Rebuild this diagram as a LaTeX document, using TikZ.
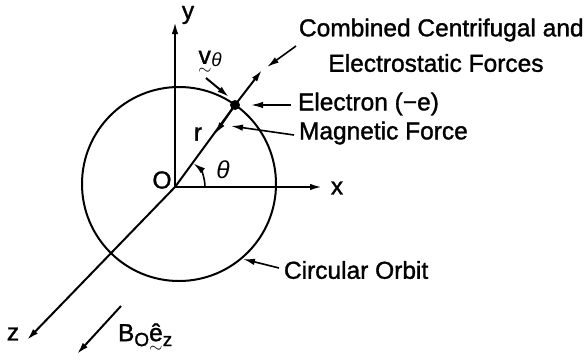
\documentclass[tikz,border=0pt]{standalone}
\usepackage{amsmath}
\usepackage{fontspec}
\setmainfont{Liberation Sans}[AutoFakeBold=1.3]
\usetikzlibrary{arrows.meta}
\newcommand{\tildeunder}[1]{\ensuremath{\underset{\raisebox{4pt}{$\scriptstyle\sim$}}{\text{#1}}}}
\begin{document}
\begin{tikzpicture}[x=1pt,y=-1pt,
  line width=2pt,
  tip/.style={-{Latex[length=12pt,width=6.5pt]}},
  lbl/.style={font=\fontsize{24.5}{28}\selectfont\bfseries, inner sep=0pt},
  thin leader/.style={line width=1.6pt},
]
\useasboundingbox (0,0) rectangle (586,360);
% geometry
\coordinate (O) at (175,187);
\coordinate (C) at (179,184);
\coordinate (ytip) at (175,22);
\coordinate (xtip) at (322,187);
\coordinate (ztip) at (27,340);
\coordinate (Fout) at (262,70);
\coordinate (Fmag) at (215,134);
\coordinate (vA) at (206,78);
\coordinate (vB) at (229,97);
\coordinate (bA) at (121,306);
\coordinate (bB) at (77,354);
\coordinate (arcS) at (205,187);
% leader starts / ends
\coordinate (lcS) at (296,46);
\coordinate (lcE) at (267,67);
\coordinate (leS) at (291,105);
\coordinate (leE) at (251,105);
\coordinate (lmS) at (294,135);
\coordinate (lmE) at (231,126);
\coordinate (loS) at (279,268);
\coordinate (loE) at (243,259);

% orbit
\draw (C) circle[radius=97];
% axes
\draw[tip] (O) -- (ytip);
\draw[tip] (O) -- (xtip);
\draw[tip] (O) -- (ztip);
% electron
\node[circle, fill, inner sep=0pt, minimum size=10pt] (e) at (235,105) {};
\draw (O) -- (e.center);
\draw[tip] (e.center) -- (Fout);
\draw[tip] (e.center) -- (Fmag);
\draw[tip] (vA) -- (vB);
% angle
\draw[tip, line width=1.6pt] (arcS) arc[start angle=0, end angle=-52, radius=30];
% field arrow
\draw[tip] (bA) -- (bB);
% leaders
\draw[tip, thin leader] (lcS) -- (lcE);
\draw[tip, thin leader] (leS) -- (leE);
\draw[tip, thin leader] (lmS) -- (lmE);
\draw[tip, thin leader] (loS) -- (loE);

% labels
\node[lbl] (ly) at (188,15) {y};
\node[lbl] (lx) at (337,188) {x};
\node[lbl] (lz) at (13,334) {z};
\node[lbl] (lO) at (162,180) {O};
\node[lbl] (lr) at (198,134) {r};
\node[lbl] (lth) at (223,170) {\textit{θ}};
\node[lbl, anchor=west] (lv) at (197,66) {\tildeunder{v}\raisebox{-3pt}{\fontsize{19}{21}\selectfont\textit{θ}}};
\node[lbl, anchor=west] (lb) at (117,341) {B\raisebox{-5pt}{\fontsize{19}{21}\selectfont O}\tildeunder{ê}\raisebox{-5pt}{\fontsize{19}{21}\selectfont z}};

\node[lbl, anchor=west] (t1) at (298,30) {Combined Centrifugal and};
\node[lbl] (t2) at (436,63) {Electrostatic Forces};
\node[lbl, anchor=west] (t3) at (297,104) {Electron (−e)};
\node[lbl, anchor=west] (t4) at (298,133) {Magnetic Force};
\node[lbl, anchor=west] (t5) at (283,270) {Circular Orbit};
\end{tikzpicture}
\end{document}
